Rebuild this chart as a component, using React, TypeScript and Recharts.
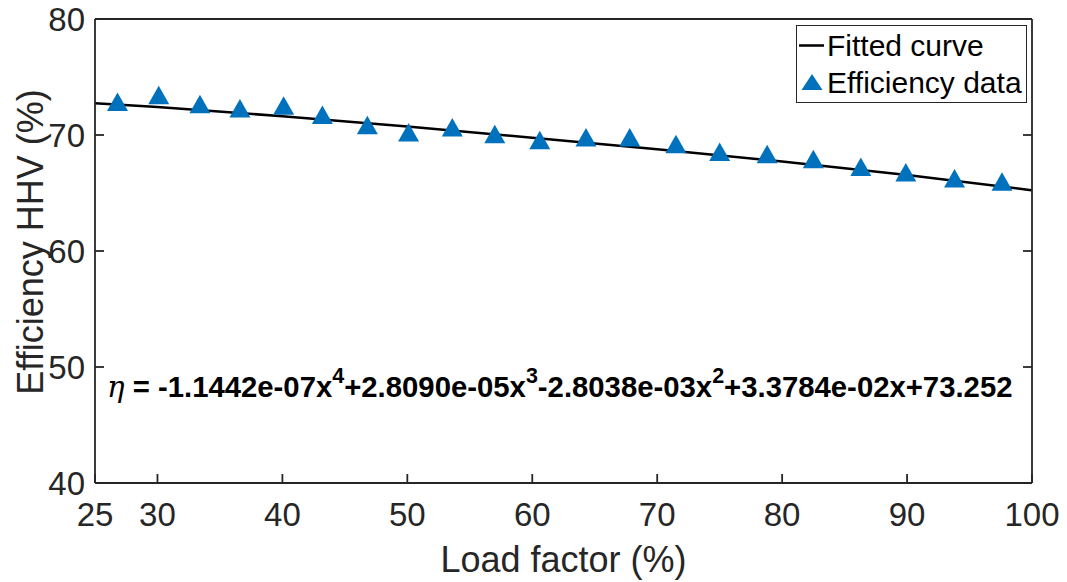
import {
  ComposedChart,
  Line,
  Scatter,
  XAxis,
  YAxis,
  Legend,
  Customized,
} from "recharts";

// measured efficiency points (load factor %, efficiency HHV %)
const loadFactor = [
  26.8, 30.1, 33.4, 36.6, 40.1, 43.2, 46.8, 50.1, 53.6, 57.0, 60.6, 64.3,
  67.8, 71.5, 75.0, 78.8, 82.5, 86.3, 89.9, 93.8, 97.6,
];
const efficiency = [
  72.61, 73.19, 72.41, 72.04, 72.27, 71.49, 70.6, 69.97, 70.41, 69.83, 69.31,
  69.54, 69.54, 68.97, 68.3, 68.1, 67.67, 67.01, 66.53, 66.01, 65.72,
];

// fitted curve
const fitLoad = [25, 30, 40, 50, 60, 70, 80, 90, 100];
const fitEff = [72.74, 72.41, 71.62, 70.73, 69.77, 68.77, 67.71, 66.55, 65.24];

const xTicks = [25, 30, 40, 50, 60, 70, 80, 90, 100];
const yTicks = [40, 50, 60, 70, 80];

const points = loadFactor.map((x, i) => ({ x, y: efficiency[i] }));
const curve = fitLoad.map((x, i) => ({ x, y: fitEff[i] }));

const AXIS = "#262626";
const BLUE = "#0072BD";
const FONT = '"Liberation Sans", Arial, Helvetica, sans-serif';
const TICK_LEN = 9;
const X_MARGIN = 19;
const Y_MARGIN = 9;

const Triangle = (props: any) => {
  const { cx, cy } = props;
  if (cx == null || cy == null) return null;
  return (
    <polygon
      points={`${cx},${cy - 12.3} ${cx - 10.5},${cy + 6.2} ${cx + 10.5},${cy + 6.2}`}
      fill={BLUE}
    />
  );
};

// ticks point into the plot, like matlab's box
const BottomTick = (props: any) => {
  const { x, y, payload } = props;
  const axisY = y - X_MARGIN;
  return (
    <g>
      <line x1={x} x2={x} y1={axisY} y2={axisY - TICK_LEN} stroke={AXIS} strokeWidth={1.8} />
      <text x={x} y={axisY + 43} textAnchor="middle" fontFamily={FONT} fontSize={33} fill={AXIS}>
        {payload.value}
      </text>
    </g>
  );
};

const LeftTick = (props: any) => {
  const { x, y, payload } = props;
  const axisX = x + Y_MARGIN;
  return (
    <g>
      <line x1={axisX} x2={axisX + TICK_LEN} y1={y} y2={y} stroke={AXIS} strokeWidth={1.8} />
      <text x={axisX - 10} y={y + 12} textAnchor="end" fontFamily={FONT} fontSize={33} fill={AXIS}>
        {payload.value}
      </text>
    </g>
  );
};

const TopTick = (props: any) => {
  const { x, y } = props;
  return <line x1={x} x2={x} y1={y} y2={y + TICK_LEN} stroke={AXIS} strokeWidth={1.8} />;
};

const RightTick = (props: any) => {
  const { x, y } = props;
  return <line x1={x} x2={x - TICK_LEN} y1={y} y2={y} stroke={AXIS} strokeWidth={1.8} />;
};

const LegendBox = (props: any) => {
  const { payload = [] } = props;
  const items = [...payload].sort((a: any, b: any) =>
    a.type === "line" ? -1 : b.type === "line" ? 1 : 0
  );
  return (
    <div
      style={{
        display: "inline-block",
        border: `1.5px solid ${AXIS}`,
        background: "#fff",
        padding: "1px 4px 1px 1px",
        fontFamily: FONT,
        fontSize: 30,
        color: "#000",
      }}
    >
      {items.map((item: any) => (
        <div
          key={item.value}
          style={{ display: "flex", alignItems: "center", height: 37, lineHeight: "37px" }}
        >
          <svg width={29} height={37}>
            {item.type === "line" ? (
              <line x1={1} x2={26} y1={18.5} y2={18.5} stroke="#000" strokeWidth={2.5} />
            ) : (
              <polygon points="14,10 3.5,26 24.5,26" fill={BLUE} />
            )}
          </svg>
          <span>{item.value}</span>
        </div>
      ))}
    </div>
  );
};

const Equation = () => (
  <text
    x={107}
    y={397}
    fontFamily={FONT}
    fontWeight="bold"
    fontSize={29.3}
    fill="#000"
    style={{ whiteSpace: "pre" }}
  >
    <tspan fontFamily='"DejaVu Serif", "Liberation Serif", serif' fontStyle="italic" fontWeight="normal">
      η
    </tspan>
    <tspan> = -1.1442e-07x</tspan>
    <tspan dy={-14} fontSize={21.5}>4</tspan>
    <tspan dy={14}>+2.8090e-05x</tspan>
    <tspan dy={-14} fontSize={21.5}>3</tspan>
    <tspan dy={14}>-2.8038e-03x</tspan>
    <tspan dy={-14} fontSize={21.5}>2</tspan>
    <tspan dy={14}>+3.3784e-02x+73.252</tspan>
  </text>
);

export default function App() {
  const axisLine = { stroke: AXIS, strokeWidth: 1.8 };

  return (
    <div style={{ position: "absolute", left: 0, top: 0, background: "#fff" }}>
      <ComposedChart
        width={1067}
        height={582}
        margin={{ top: 0, right: 0, bottom: 0, left: 0 }}
      >
        <XAxis
          xAxisId="b"
          dataKey="x"
          type="number"
          domain={[25, 100]}
          ticks={xTicks}
          allowDataOverflow
          height={99}
          tickSize={0}
          tickMargin={X_MARGIN}
          tick={BottomTick}
          tickLine={false}
          axisLine={axisLine}
          label={{
            content: (p: any) => {
              const vb = p.viewBox;
              return (
                <text
                  x={vb.x + vb.width / 2}
                  y={vb.y + 89}
                  textAnchor="middle"
                  fontFamily={FONT}
                  fontSize={36}
                  fill={AXIS}
                >
                  Load factor (%)
                </text>
              );
            },
          }}
        />
        <XAxis
          xAxisId="t"
          orientation="top"
          type="number"
          domain={[25, 100]}
          ticks={xTicks}
          allowDataOverflow
          height={19}
          tickSize={0}
          tickMargin={0}
          tick={TopTick}
          tickLine={false}
          axisLine={axisLine}
        />
        <YAxis
          yAxisId="l"
          type="number"
          domain={[40, 80]}
          ticks={yTicks}
          allowDataOverflow
          width={95}
          tickSize={0}
          tickMargin={Y_MARGIN}
          tick={LeftTick}
          tickLine={false}
          axisLine={axisLine}
          label={{
            content: (p: any) => {
              const vb = p.viewBox;
              const cx = vb.x + 30;
              const cy = 242;
              return (
                <text
                  x={cx}
                  y={cy}
                  transform={`rotate(-90 ${cx} ${cy})`}
                  textAnchor="middle"
                  dominantBaseline="central"
                  fontFamily={FONT}
                  fontSize={36}
                  fill={AXIS}
                >
                  Efficiency HHV (%)
                </text>
              );
            },
          }}
        />
        <YAxis
          yAxisId="r"
          orientation="right"
          type="number"
          domain={[40, 80]}
          ticks={yTicks}
          allowDataOverflow
          width={35}
          tickSize={0}
          tickMargin={0}
          tick={RightTick}
          tickLine={false}
          axisLine={axisLine}
        />

        <Line
          xAxisId="b"
          yAxisId="l"
          data={curve}
          dataKey="y"
          name="Fitted curve"
          type="monotone"
          stroke="#000"
          strokeWidth={2.5}
          dot={false}
          legendType="line"
          isAnimationActive={false}
        />
        <Scatter
          xAxisId="b"
          yAxisId="l"
          data={points}
          dataKey="y"
          name="Efficiency data"
          fill={BLUE}
          shape={Triangle}
          legendType="triangle"
          isAnimationActive={false}
        />

        <Customized component={Equation} />

        <Legend
          layout="horizontal"
          verticalAlign="middle"
          align="center"
          content={LegendBox}
          wrapperStyle={{ left: 796, top: 25, width: "auto", height: "auto" }}
        />
      </ComposedChart>
    </div>
  );
}
